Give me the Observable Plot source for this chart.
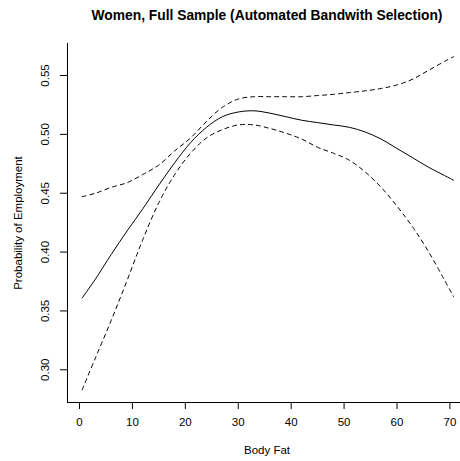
<!DOCTYPE html>
<html><head><meta charset="utf-8">
<script src="https://cdn.jsdelivr.net/npm/d3@7"></script>
<script src="https://cdn.jsdelivr.net/npm/@observablehq/plot@0.6"></script>
<style>body{margin:0;background:#fff}</style>
</head><body><div id="chart"></div>
<script>
const titleText = "Women, Full Sample (Automated Bandwith Selection)";
const xLabel = "Body Fat";
const yLabel = "Probability of Employment";
const bodyFat  = [0.5, 3, 6, 9, 12, 15, 18, 21, 24, 27, 30, 33, 36, 39, 42, 45, 48, 51, 54, 57, 60, 63, 66, 69, 70.7];
const estimate = [0.361, 0.377, 0.398, 0.418, 0.437, 0.457, 0.476, 0.493, 0.506, 0.515, 0.519, 0.520, 0.518, 0.515, 0.512, 0.510, 0.508, 0.506, 0.502, 0.496, 0.488, 0.480, 0.472, 0.465, 0.461];
const upper    = [0.447, 0.450, 0.455, 0.459, 0.466, 0.474, 0.486, 0.497, 0.511, 0.523, 0.530, 0.532, 0.532, 0.532, 0.532, 0.533, 0.534, 0.5355, 0.537, 0.539, 0.542, 0.547, 0.5545, 0.562, 0.566];
const lower    = [0.283, 0.310, 0.342, 0.376, 0.411, 0.442, 0.466, 0.484, 0.497, 0.504, 0.508, 0.508, 0.505, 0.501, 0.496, 0.489, 0.484, 0.478, 0.468, 0.455, 0.439, 0.421, 0.400, 0.376, 0.362];
const xTicks = [0, 10, 20, 30, 40, 50, 60, 70];
const yTicks = [0.30, 0.35, 0.40, 0.45, 0.50, 0.55];

const rows = bodyFat.map((x, i) => ({x, est: estimate[i], up: upper[i], lo: lower[i]}));
const xDomain = [-2.27, 72.0];
const yDomain = [0.2722, 0.5772];

const chart = Plot.plot({
  width: 460, height: 461,
  marginLeft: 67, marginRight: 0, marginTop: 43, marginBottom: 59,
  x: {domain: xDomain},
  y: {domain: yDomain},
  style: {fontFamily: "'Liberation Sans', Arial, Helvetica, sans-serif", fontSize: "11.5px", background: "#fff", color: "#000"},
  marks: [
    Plot.ruleX([xDomain[0]], {stroke: "#000", strokeWidth: 1}),
    Plot.ruleY([yDomain[0]], {stroke: "#000", strokeWidth: 1}),
    Plot.axisX(xTicks, {tickSize: 7, tickPadding: 8, label: null, fontSize: 11.5}),
    Plot.axisY(yTicks, {tickSize: 7, tickFormat: () => "", label: null}),
    Plot.text(yTicks, {y: d => d, text: d => d.toFixed(2), frameAnchor: "left", dx: -22, rotate: -90, lineAnchor: "middle", textAnchor: "middle", fontSize: 11.5}),
    Plot.line(rows, {x: "x", y: "est", stroke: "#000", strokeWidth: 1, curve: "catmull-rom"}),
    Plot.line(rows, {x: "x", y: "up", stroke: "#000", strokeWidth: 1, strokeDasharray: "4,4", curve: "catmull-rom"}),
    Plot.line(rows, {x: "x", y: "lo", stroke: "#000", strokeWidth: 1, strokeDasharray: "4,4", curve: "catmull-rom"}),
    Plot.text([titleText], {frameAnchor: "top", dy: -28, dx: 3, fontWeight: "bold", fontSize: 13.8, lineAnchor: "middle", textAnchor: "middle"}),
    Plot.text([xLabel], {frameAnchor: "bottom", dy: 48, dx: 3, fontSize: 11.5, lineAnchor: "middle", textAnchor: "middle"}),
    Plot.text([yLabel], {frameAnchor: "left", dx: -49, rotate: -90, fontSize: 11.5, lineAnchor: "middle", textAnchor: "middle"})
  ]
});
document.getElementById("chart").appendChild(chart);
</script>
</body></html>
